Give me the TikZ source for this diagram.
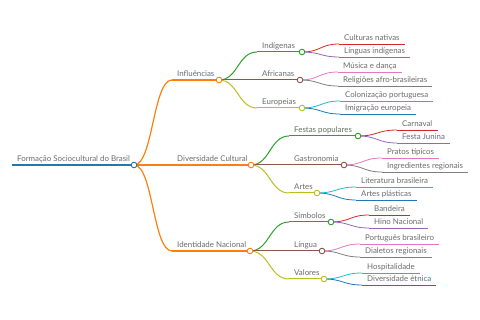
\documentclass[tikz,border=0pt]{standalone}
\usepackage{fontspec}
\setmainfont{Lato}
\usetikzlibrary{calc}
\definecolor{cBlue}{HTML}{1F77B4}
\definecolor{cOrange}{HTML}{FF7F0E}
\definecolor{cGreen}{HTML}{2CA02C}
\definecolor{cRed}{HTML}{D62728}
\definecolor{cPurple}{HTML}{9467BD}
\definecolor{cBrown}{HTML}{8C564B}
\definecolor{cPink}{HTML}{E377C2}
\definecolor{cGray}{HTML}{7F7F7F}
\definecolor{cOlive}{HTML}{BCBD22}
\definecolor{cCyan}{HTML}{17BECF}
\definecolor{txtgray}{HTML}{6A6A6A}
\tikzset{
  txt/.style={inner sep=0pt, anchor=base west, text=txtgray, font=\fontsize{7.9}{9}\selectfont},
  dot/.style={circle, fill=white, inner sep=0pt, minimum size=5.6pt, line width=0.9pt},
  w0/.style={line width=1.3pt},
  w1/.style={line width=1.2pt},
  w2/.style={line width=1pt},
  w3/.style={line width=0.8pt},
}
% inner node: name, x start, x end (circle), y, style, text
\newcommand\mmnode[6]{%
  \coordinate (#1-s) at (#2,#4);
  \coordinate (#1-e) at (#3,#4);
  \node[txt] (#1) at ([xshift=5pt,yshift=3pt]#1-s) {#6};
  \draw[#5] (#1-s) -- (#1-e);
}
% leaf node: name, x start, y, style, text
\newcommand\mmleaf[5]{%
  \coordinate (#1-s) at (#2,#3);
  \node[txt] (#1) at ([xshift=5pt,yshift=3pt]#1-s) {#5};
  \path (#1.east |- #1-s) ++(5pt,0) coordinate (#1-e);
  \draw[#4] (#1-s) -- (#1-e);
}
% link: from parent circle to child start
\newcommand\mmlink[3]{%
  \draw[#3] let \p1=(#1-e), \p2=(#2-s) in
    (\p1) .. controls ({(\x1+\x2)/2},\y1) and ({(\x1+\x2)/2},\y2) .. (\p2);
}
\newcommand\mmdot[2]{\node[dot, draw=#2] at (#1-e) {};}
\begin{document}
\begin{tikzpicture}[x=1pt,y=-1pt]
\useasboundingbox (0,0) rectangle (480,320);
% root
\mmnode{root}{12}{134}{165}{cBlue,w0}{Formação Sociocultural do Brasil}
% level 1
\mmnode{inf}{172}{219}{80}{cOrange,w1}{Influências}
\mmnode{div}{172}{251}{165}{cOrange,w1}{Diversidade Cultural}
\mmnode{ide}{172}{250}{251}{cOrange,w1}{Identidade Nacional}
% level 2
\mmnode{ind}{257}{302}{52}{cGreen,w2}{Indígenas}
\mmnode{afr}{257}{300}{80}{cBrown,w2}{Africanas}
\mmnode{eur}{257}{302}{108}{cOlive,w2}{Europeias}
\mmnode{fes}{289}{358}{136}{cGreen,w2}{Festas populares}
\mmnode{gas}{289}{344}{165}{cBrown,w2}{Gastronomia}
\mmnode{art}{289}{317}{193}{cOlive,w2}{Artes}
\mmnode{sim}{289}{331}{222}{cGreen,w2}{Símbolos}
\mmnode{lin}{289}{322}{251}{cBrown,w2}{Língua}
\mmnode{val}{289}{324}{279}{cOlive,w2}{Valores}
% level 3
\mmleaf{cn}{339}{44}{cRed,w3}{Culturas nativas}
\mmleaf{li}{339}{57}{cPurple,w3}{Línguas indígenas}
\mmleaf{md}{338}{72}{cPink,w3}{Música e dança}
\mmleaf{ra}{338}{86}{cGray,w3}{Religiões afro-brasileiras}
\mmleaf{cp}{340}{101}{cCyan,w3}{Colonização portuguesa}
\mmleaf{ie}{340}{114}{cBlue,w3}{Imigração europeia}
\mmleaf{car}{397}{130}{cRed,w3}{Carnaval}
\mmleaf{fj}{397}{143}{cPurple,w3}{Festa Junina}
\mmleaf{pt}{382}{158}{cPink,w3}{Pratos típicos}
\mmleaf{ir}{382}{172}{cGray,w3}{Ingredientes regionais}
\mmleaf{lb}{356}{187}{cCyan,w3}{Literatura brasileira}
\mmleaf{ap}{356}{200}{cBlue,w3}{Artes plásticas}
\mmleaf{ban}{369}{215}{cRed,w3}{Bandeira}
\mmleaf{hn}{369}{228}{cPurple,w3}{Hino Nacional}
\mmleaf{pb}{360}{244}{cPink,w3}{Português brasileiro}
\mmleaf{dr}{360}{257}{cGray,w3}{Dialetos regionais}
\mmleaf{hos}{362}{273}{cCyan,w3}{Hospitalidade}
\mmleaf{de}{362}{285}{cBlue,w3}{Diversidade étnica}
% links
\mmlink{root}{inf}{cOrange,w1}
\mmlink{root}{div}{cOrange,w1}
\mmlink{root}{ide}{cOrange,w1}
\mmlink{inf}{ind}{cGreen,w2}
\mmlink{inf}{afr}{cBrown,w2}
\mmlink{inf}{eur}{cOlive,w2}
\mmlink{div}{fes}{cGreen,w2}
\mmlink{div}{gas}{cBrown,w2}
\mmlink{div}{art}{cOlive,w2}
\mmlink{ide}{sim}{cGreen,w2}
\mmlink{ide}{lin}{cBrown,w2}
\mmlink{ide}{val}{cOlive,w2}
\mmlink{ind}{cn}{cRed,w3}
\mmlink{ind}{li}{cPurple,w3}
\mmlink{afr}{md}{cPink,w3}
\mmlink{afr}{ra}{cGray,w3}
\mmlink{eur}{cp}{cCyan,w3}
\mmlink{eur}{ie}{cBlue,w3}
\mmlink{fes}{car}{cRed,w3}
\mmlink{fes}{fj}{cPurple,w3}
\mmlink{gas}{pt}{cPink,w3}
\mmlink{gas}{ir}{cGray,w3}
\mmlink{art}{lb}{cCyan,w3}
\mmlink{art}{ap}{cBlue,w3}
\mmlink{sim}{ban}{cRed,w3}
\mmlink{sim}{hn}{cPurple,w3}
\mmlink{lin}{pb}{cPink,w3}
\mmlink{lin}{dr}{cGray,w3}
\mmlink{val}{hos}{cCyan,w3}
\mmlink{val}{de}{cBlue,w3}
% circles
\mmdot{root}{cBlue}
\mmdot{inf}{cOrange}
\mmdot{div}{cOrange}
\mmdot{ide}{cOrange}
\mmdot{ind}{cGreen}
\mmdot{afr}{cBrown}
\mmdot{eur}{cOlive}
\mmdot{fes}{cGreen}
\mmdot{gas}{cBrown}
\mmdot{art}{cOlive}
\mmdot{sim}{cGreen}
\mmdot{lin}{cBrown}
\mmdot{val}{cOlive}
\end{tikzpicture}
\end{document}
